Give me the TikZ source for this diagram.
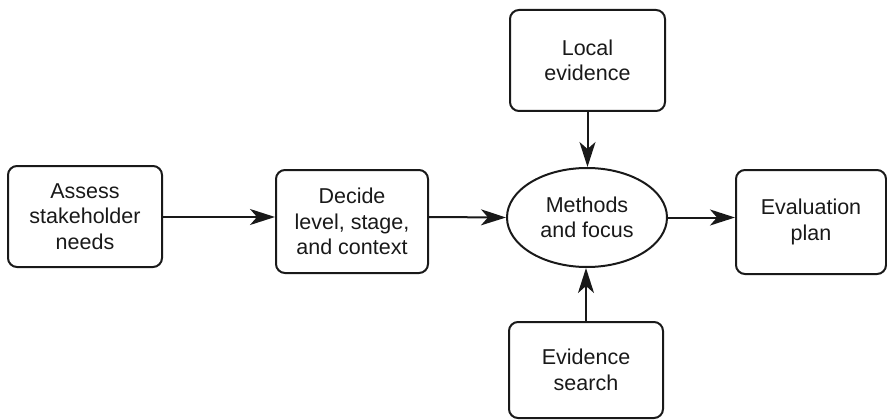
\documentclass[tikz,border=0pt]{standalone}
\usepackage{fontspec}
\setmainfont{Liberation Sans}
\usetikzlibrary{arrows.meta,shapes.geometric}
\begin{document}
\begin{tikzpicture}[x=1pt,y=-1pt,
  every node/.style={font=\fontsize{21.5}{25.5}\selectfont, align=center, text=black!90},
  stepbox/.style={draw=black!90, line width=2pt, rounded corners=9pt, inner sep=0pt},
  hub/.style={draw=black!90, line width=2pt, ellipse, inner sep=0pt},
  flow/.style={draw=black!90, line width=2pt, -{Stealth[length=25pt,width=16pt,inset=7pt]}}]
\useasboundingbox (0,0) rectangle (887,420);
\node[stepbox, minimum width=154pt, minimum height=101pt] (assess) at (85,216.5) {Assess\\stakeholder\\needs};
\node[stepbox, minimum width=152pt, minimum height=103pt] (decide) at (352,221.5) {Decide\\level, stage,\\and context};
\node[hub, minimum width=160pt, minimum height=99pt] (methods) at (587,217.5) {Methods\\and focus};
\node[stepbox, minimum width=155pt, minimum height=101pt] (local) at (587.5,60.5) {Local\\evidence};
\node[stepbox, minimum width=150pt, minimum height=104pt] (plan) at (811,222) {Evaluation\\plan};
\node[stepbox, minimum width=154pt, minimum height=96pt] (search) at (586,370) {Evidence\\search};
\draw[flow] (assess.east |- 0,217) -- (decide.west |- 0,217);
\draw[flow] (decide.east |- 0,217) -- (methods.west);
\draw[flow] (methods.east) -- (plan.west |- methods.east);
\draw[flow] (local.south) -- (local.south |- methods.north);
\draw[flow] (search.north) -- (search.north |- methods.south);
\end{tikzpicture}
\end{document}
